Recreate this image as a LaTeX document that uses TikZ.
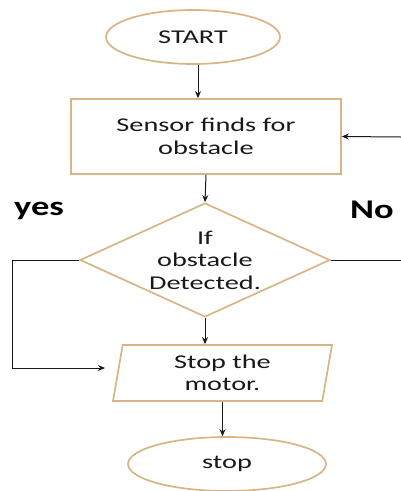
\documentclass[tikz,border=0pt]{standalone}
\usepackage{fontspec}
\setmainfont[FakeStretch=1.45]{Carlito}
\newfontfamily\labfont[FakeStretch=1.35]{Carlito}
\usetikzlibrary{shapes.geometric,arrows.meta}
\definecolor{tan}{RGB}{216,180,134}
\definecolor{ink}{RGB}{25,25,25}
\tikzset{
  shapebox/.style={draw=tan,line width=1.7pt,fill=white,text=ink,align=center,font=\fontsize{19.5}{22.5}\selectfont,inner sep=0pt},
  arr/.style={draw=ink,line width=1pt,-{Stealth[length=7pt,width=6pt]}},
  ln/.style={draw=ink,line width=1pt},
  lab/.style={font=\labfont\bfseries\fontsize{27}{27}\selectfont,text=black}
}
\begin{document}
\begin{tikzpicture}[x=1pt,y=-1pt]
\useasboundingbox (0,0) rectangle (401,491);
\node[shapebox,ellipse,minimum width=174pt,minimum height=54pt] (start) at (193,37) {START};
\node[shapebox,rectangle,minimum width=270pt,minimum height=75pt] (sensor) at (206,136.5) {Sensor finds for\\obstacle};
\node[shapebox,diamond,minimum width=250pt,minimum height=114pt,aspect=2.2] (dec) at (205,260) {If\\obstacle\\Detected.};
\node[shapebox,trapezium,trapezium left angle=75,trapezium right angle=105,minimum width=219pt,minimum height=56pt,trapezium stretches body] (motor) at (222.5,373) {Stop the\\motor.};
\node[shapebox,ellipse,minimum width=198pt,minimum height=54pt] (stop) at (227,464) {stop};
\node[lab] (yes) at (39,211) {yes};
\node[lab] (no) at (372,210) {No};
\coordinate (back) at (401,137);
\coordinate (noend) at (401,260);
\coordinate (ycorner) at (12,260);
\coordinate (yesend) at (105,368);
\draw[arr] ([xshift=5pt]start.south) -- ([xshift=5pt]start.south |- sensor.north);
\draw[arr] (sensor.south) -- (dec.north);
\draw[arr] (dec.south) -- (dec.south |- motor.north);
\draw[arr] (motor.south) -- (motor.south |- stop.north);
\draw[arr] (back) -- (sensor.east);
\draw[ln] (dec.east) -- (noend);
\draw[arr] (dec.west) -- (ycorner) |- (yesend);
\end{tikzpicture}
\end{document}
